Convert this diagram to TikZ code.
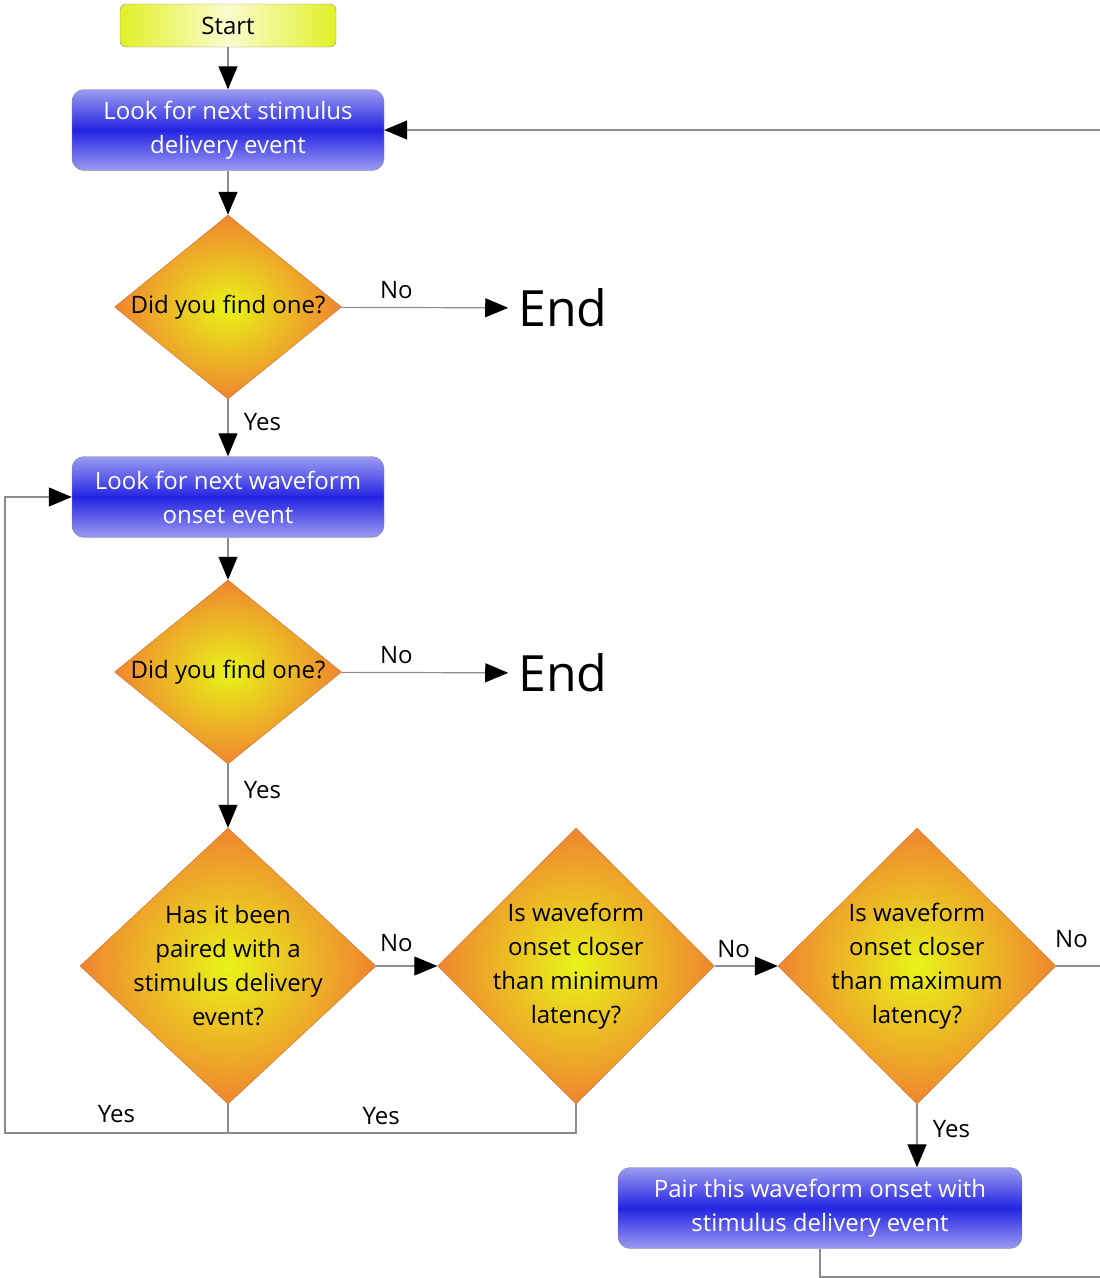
\documentclass[tikz,border=0pt]{standalone}
\usepackage{fontspec}
\setmainfont{Open Sans}
\usetikzlibrary{shapes.geometric}
\usetikzlibrary{arrows.meta}
\definecolor{flow-gray}{RGB}{140, 140, 140}
\definecolor{flow-blue0}{RGB}{155, 155, 242}
\definecolor{flow-blue1}{RGB}{36, 36, 226}
\definecolor{flow-yellow0}{RGB}{226, 240, 40}
\definecolor{flow-yellow1}{RGB}{250, 252, 205}
\definecolor{flow-lime}{RGB}{232, 244, 24}
\definecolor{flow-orange}{RGB}{240, 132, 48}
\definecolor{flow-edge}{RGB}{196, 112, 50}

\tikzset{
  startbox/.style={rectangle, rounded corners=6pt, draw=flow-gray, left color=flow-yellow0, right color=flow-yellow0, middle color=flow-yellow1, minimum width=216pt, minimum height=43pt},
  taskbox/.style={rectangle, rounded corners=12pt, draw=flow-gray, top color=flow-blue0, bottom color=flow-blue0, middle color=flow-blue1, text=white, align=center, minimum height=81pt, inner sep=0pt},
  query/.style={diamond, draw=flow-edge, shading=radial, inner color=flow-lime, outer color=flow-orange, inner sep=0pt},
  endmark/.style={font=\fontsize{50}{60}\selectfont, inner sep=10pt},
  flow/.style={draw=flow-gray, line width=1.2pt, -{Triangle[length=23pt, width=19pt, color=black]}},
  flowline/.style={draw=flow-gray, line width=1.2pt}
}

\begin{document}
\begin{tikzpicture}[x=1pt, y=-1pt, font=\fontsize{24}{34}\selectfont]
  \useasboundingbox (0, 0) rectangle (1100, 1278);
  \coordinate (loopin) at (1100, 130);
  \coordinate (loop) at (5, 1133);
  \coordinate (join) at (228, 1133);
  \coordinate (maxout) at (1100, 966);
  \coordinate (pairout) at (1100, 1277);

  \node[startbox] (start) at (228, 25.5) {Start};
  \node[taskbox, minimum width=312pt] (look1) at (228, 130) {Look for next stimulus\\delivery event};
  \node[query, minimum width=227pt, minimum height=184pt, label={[align=center]center:Did you find one?}] (find1) at (228, 307) {};
  \node[endmark] (end1) at (563, 308) {End};
  \node[taskbox, minimum width=312pt] (look2) at (228, 497) {Look for next waveform\\onset event};
  \node[query, minimum width=227pt, minimum height=184pt, label={[align=center]center:Did you find one?}] (find2) at (228, 672) {};
  \node[endmark] (end2) at (563, 673) {End};
  \node[query, minimum width=296pt, minimum height=276pt, label={[align=center]center:Has it been\\paired with a\\stimulus delivery\\event?}] (paired) at (228, 966) {};
  \node[query, minimum width=277pt, minimum height=276pt, label={[align=center]center:Is waveform\\onset closer\\than minimum\\latency?}] (minlat) at (576, 966) {};
  \node[query, minimum width=278pt, minimum height=276pt, label={[align=center]center:Is waveform\\onset closer\\than maximum\\latency?}] (maxlat) at (917, 966) {};
  \node[taskbox, minimum width=404pt] (pair) at (820, 1208) {Pair this waveform onset with\\stimulus delivery event};

  % main line
  \draw[flow] (start) -- (look1);
  \draw[flow] (look1) -- (find1);
  \draw[flow] (find1) -- node[above=5pt, pos=0.33]{No} (end1);
  \draw[flow] (find1) -- node[right=12pt, pos=0.4]{Yes} (look2);
  \draw[flow] (look2) -- (find2);
  \draw[flow] (find2) -- node[above=5pt, pos=0.33]{No} (end2);
  \draw[flow] (find2) -- node[right=12pt, pos=0.4]{Yes} (paired);
  \draw[flow] (paired) -- node[above=10pt, pos=0.33]{No} (minlat);
  \draw[flow] (minlat) -- node[above=4pt, pos=0.3]{No} (maxlat);
  \draw[flow] (maxlat.south) -- node[right=12pt, pos=0.4]{Yes} (pair.north -| maxlat.south);

  % loops back
  \draw[flow] (paired.south) |- node[pos=0.75, above=6pt]{Yes} (loop) |- (look2.west);
  \draw[flowline] (minlat.south) |- node[pos=0.78, above=4pt]{Yes} (join);
  \draw[flowline] (maxlat.east) -- node[pos=0.35, above=14pt]{No} (maxout);
  \draw[flowline] (pair.south) |- (pairout);
  \draw[flow] (loopin) -- (look1.east);
\end{tikzpicture}
\end{document}
